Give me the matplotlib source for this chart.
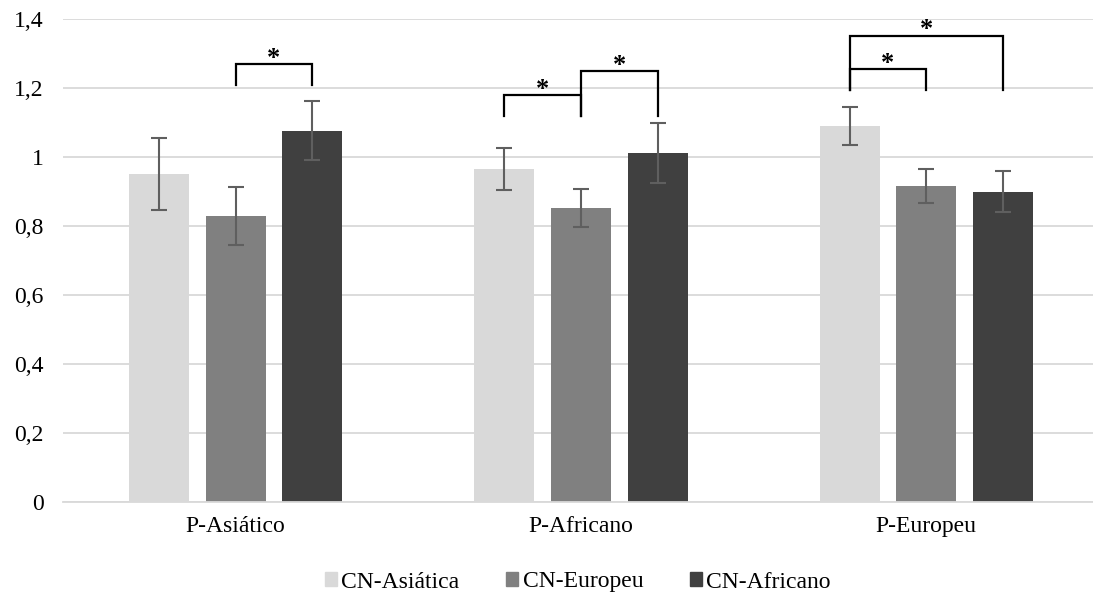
import numpy as np
from matplotlib import pyplot as plt
from matplotlib.patches import Patch

plt.rcParams['font.family'] = ['Liberation Serif', 'DejaVu Serif']

# grupos (eixo x) e series
categorias = ["P-Asiático", "P-Africano", "P-Europeu"]
series = ["CN-Asiática", "CN-Europeu", "CN-Africano"]
cores = ["#d9d9d9", "#808080", "#404040"]

# medias
cn_asiatica = [0.951, 0.965, 1.090]
cn_europeu = [0.829, 0.852, 0.915]
cn_africano = [1.076, 1.011, 0.899]

# erros (+/-)
err_asiatica = [0.105, 0.061, 0.055]
err_europeu = [0.084, 0.054, 0.049]
err_africano = [0.085, 0.087, 0.059]

# significancia: (grupo, barra a, barra b, altura do topo, fim das pernas)
sig = [
    (0, 1, 2, 1.270, 1.208),
    (1, 0, 1, 1.180, 1.119),
    (1, 1, 2, 1.249, 1.119),
    (2, 0, 1, 1.255, 1.194),
    (2, 0, 2, 1.352, 1.194),
]

valores = [cn_asiatica, cn_europeu, cn_africano]
erros = [err_asiatica, err_europeu, err_africano]

fig = plt.figure(figsize=(10.93, 6.06), dpi=100)
ax = fig.add_axes([63/1093, 1-502/606, 1036/1093, 483/606])

x = np.arange(len(categorias))
passo = 0.222
largura = 0.174
offs = [-passo, 0, passo]

for i in range(3):
    ax.bar(x + offs[i], valores[i], largura, color=cores[i], zorder=2)
    ax.errorbar(x + offs[i], valores[i], yerr=erros[i], fmt='none',
                ecolor="#5f5f5f", elinewidth=1.5, capsize=6, capthick=1.5, zorder=3)

for g, a, b, topo, base in sig:
    xa = x[g] + offs[a]
    xb = x[g] + offs[b]
    ax.plot([xa, xa, xb, xb], [base, topo, topo, base], color="black", lw=1.6,
            solid_joinstyle='miter', zorder=4)
    ax.text((xa + xb) / 2, topo - 0.002, "*", ha="center", va="baseline",
            fontsize=19, fontweight="bold")

ax.set_xlim(-0.5, 2.5)
ax.set_ylim(0, 1.4)
ax.set_yticks(np.arange(0, 1.41, 0.2))
ax.set_yticklabels(["0", "0,2", "0,4", "0,6", "0,8", "1", "1,2", "1,4"], fontsize=17)
ax.set_xticks(x)
ax.set_xticklabels(categorias, fontsize=17)
ax.tick_params(axis='x', length=0, pad=10)
ax.tick_params(axis='y', length=0, pad=14)
ax.yaxis.grid(True, color="#d9d9d9", lw=1.3, zorder=0)
for s in ["top", "right", "left"]:
    ax.spines[s].set_visible(False)
ax.spines["bottom"].set_color("#d9d9d9")
ax.spines["bottom"].set_linewidth(1.3)

handles = [Patch(color=c) for c in cores]
fig.legend(handles, series, loc="center", bbox_to_anchor=(578/1093, 1-582/606), ncol=3,
           frameon=False, fontsize=17, handlelength=0.5, handleheight=0.5,
           handletextpad=0.18, columnspacing=2.0)

plt.savefig("out.png", dpi=100)
